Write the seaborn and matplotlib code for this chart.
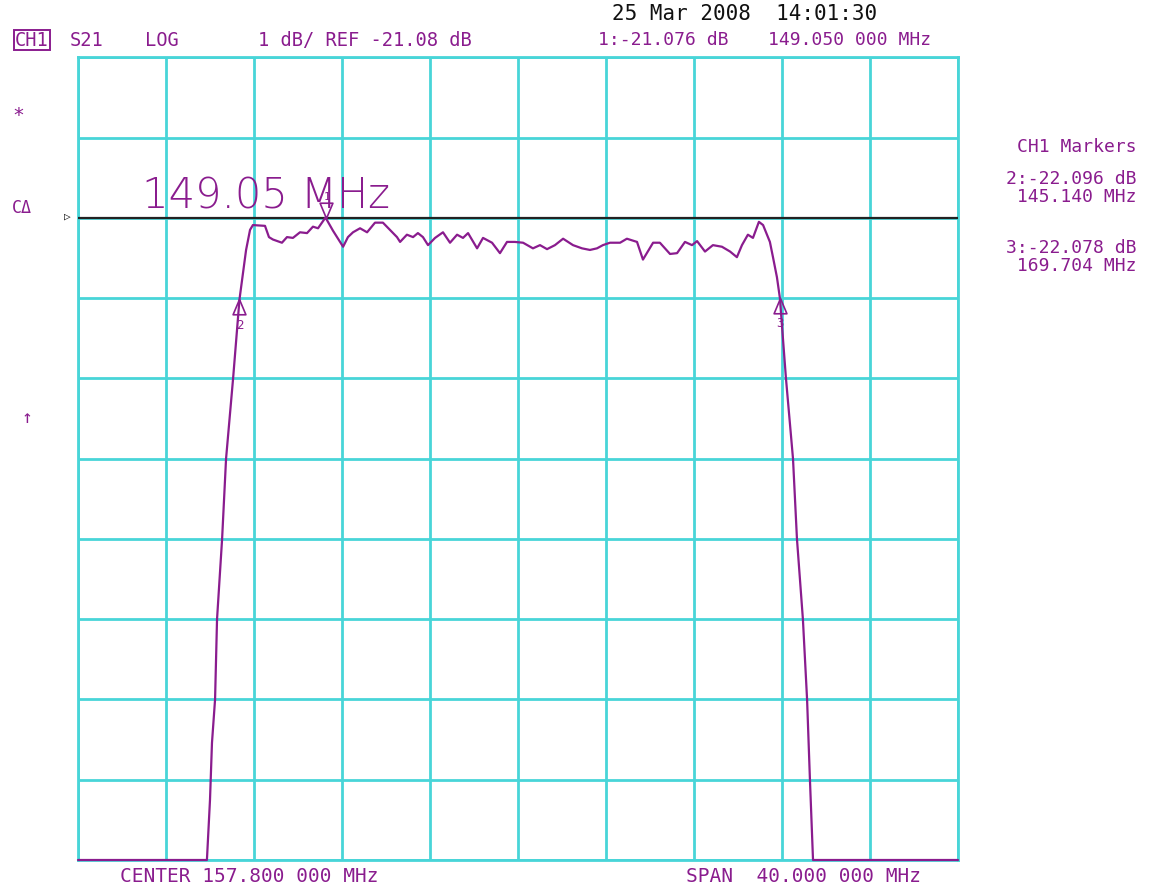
import numpy as np
import pandas as pd
import seaborn as sns
import matplotlib.pyplot as plt

# analyzer settings
center_mhz = 157.8
span_mhz = 40.0
ref_db = -21.08
db_per_div = 1.0
ref_div = 8  # reference line sits 8 divisions above the bottom

# S21 trace (MHz, dB); values below the screen sit at the bottom edge
freq_mhz = [137.80, 143.66, 143.80, 143.89, 144.03, 144.12, 144.35, 144.53, 144.85, 145.14,
            145.44, 145.62, 145.75, 146.30, 146.48, 146.66, 147.07, 147.30, 147.57, 147.89,
            148.21, 148.48, 148.71, 149.05, 149.39, 149.85, 150.07, 150.30, 150.62, 150.94,
            151.30, 151.66, 151.98, 152.30, 152.44, 152.75, 153.03, 153.25, 153.48, 153.71,
            154.03, 154.39, 154.71, 155.03, 155.30, 155.53, 155.94, 156.21, 156.62, 156.98,
            157.30, 157.66, 158.03, 158.48, 158.80, 159.12, 159.48, 159.85, 160.30, 160.71,
            161.07, 161.39, 161.66, 161.98, 162.44, 162.75, 163.21, 163.48, 163.94, 164.25,
            164.71, 165.03, 165.39, 165.71, 165.94, 166.30, 166.66, 167.07, 167.44, 167.75,
            167.98, 168.25, 168.48, 168.75, 168.94, 169.25, 169.39, 169.57, 169.704, 169.98,
            170.30, 170.48, 170.75, 170.94, 171.07, 171.21, 177.80]
s21_db = [-29.08, -29.08, -28.33, -27.62, -27.08, -26.08, -25.08, -24.08, -23.08, -22.096,
          -21.48, -21.23, -21.17, -21.18, -21.32, -21.35, -21.39, -21.32, -21.33, -21.26,
          -21.27, -21.19, -21.21, -21.076, -21.24, -21.44, -21.32, -21.26, -21.21, -21.26,
          -21.14, -21.14, -21.23, -21.32, -21.38, -21.29, -21.32, -21.27, -21.32, -21.42,
          -21.33, -21.26, -21.39, -21.29, -21.33, -21.27, -21.46, -21.33, -21.39, -21.52,
          -21.38, -21.38, -21.39, -21.46, -21.42, -21.47, -21.42, -21.34, -21.42, -21.46,
          -21.48, -21.46, -21.42, -21.39, -21.39, -21.34, -21.38, -21.60, -21.39, -21.39,
          -21.53, -21.52, -21.38, -21.42, -21.37, -21.50, -21.42, -21.44, -21.50, -21.57,
          -21.42, -21.29, -21.33, -21.13, -21.17, -21.38, -21.57, -21.82, -22.078, -23.08,
          -24.08, -25.08, -26.08, -27.08, -28.08, -29.08, -29.08]

# markers
marker_ids = ["1", "2", "3"]
marker_freq = [149.05, 145.14, 169.704]
marker_db = [-21.076, -22.096, -22.078]

trace = pd.DataFrame({"freq": freq_mhz, "s21": s21_db})

cyan = "#48D5D8"
purple = "#8A1C8E"
W, H = 1152, 886


def px(x, y):
    # screen pixel -> figure fraction
    return x / W, 1 - y / H


sns.set_style("white")
plt.rcParams["font.family"] = ["DejaVu Sans Mono", "DejaVu Sans"]

fig = plt.figure(figsize=(W / 100, H / 100), dpi=100)
ax = fig.add_axes([78 / W, 1 - 860 / H, 880 / W, 802.7 / H])

f_lo = center_mhz - span_mhz / 2
f_hi = center_mhz + span_mhz / 2
y_lo = ref_db - ref_div * db_per_div
y_hi = y_lo + 10 * db_per_div

ax.set_xlim(f_lo, f_hi)
ax.set_ylim(y_lo, y_hi)
ax.set_xticks(np.linspace(f_lo, f_hi, 11))
ax.set_yticks(np.linspace(y_lo, y_hi, 11))
ax.tick_params(length=0, labelbottom=False, labelleft=False)
ax.grid(True, color=cyan, linewidth=2)
ax.set_axisbelow(True)
for s in ax.spines.values():
    s.set_color(cyan)
    s.set_linewidth(2)
    s.set_zorder(0.5)

# reference line
ax.axhline(ref_db, color="#222222", linewidth=1.6, zorder=2)

sns.lineplot(data=trace, x="freq", y="s21", color=purple, linewidth=1.6,
             ax=ax, zorder=3, clip_on=False)
ax.set_xlabel("")
ax.set_ylabel("")

# marker symbols: triangles with the tip on the trace
up_tri = [(0, 0), (-0.42, -1), (0.42, -1), (0, 0)]
down_tri = [(0, 0), (-0.42, 1), (0.42, 1), (0, 0)]
for mid, mf, md in zip(marker_ids, marker_freq, marker_db):
    if mid == "1":
        ax.plot(mf, md, marker=down_tri, markersize=22, markerfacecolor="none",
                markeredgecolor=purple, markeredgewidth=1.2, zorder=4)
        ax.annotate(mid, (mf, md), xytext=(1, 11), textcoords="offset points",
                    ha="center", va="bottom", color=purple, fontsize=8)
    else:
        ax.plot(mf, md, marker=up_tri, markersize=22, markerfacecolor="none",
                markeredgecolor=purple, markeredgewidth=1.2, zorder=4)
        ax.annotate(mid, (mf, md), xytext=(0, -14), textcoords="offset points",
                    ha="center", va="top", color=purple, fontsize=9)

# header
fig.text(*px(612, 14), "25 Mar 2008  14:01:30", color="#111111", fontsize=15, va="center")
fig.text(*px(15, 40), "CH1", color=purple, fontsize=13.5, va="center",
         bbox=dict(boxstyle="square,pad=0.05", fc="none", ec=purple, lw=1.4))
fig.text(*px(70, 40), "S21", color=purple, fontsize=13.5, va="center")
fig.text(*px(145, 40), "LOG", color=purple, fontsize=13.5, va="center")
fig.text(*px(258, 40), "1 dB/ REF -21.08 dB", color=purple, fontsize=13.5, va="center")
fig.text(*px(598, 40), "1:-21.076 dB", color=purple, fontsize=13, va="center")
fig.text(*px(768, 40), "149.050 000 MHz", color=purple, fontsize=13, va="center")

# left side annunciators
fig.text(*px(12, 115), "*", color=purple, fontsize=14, va="center")
fig.text(*px(12, 208), "CΔ", color=purple, fontsize=12, va="center")
fig.text(*px(22, 418), "↑", color=purple, fontsize=13, va="center")
fig.text(*px(64, 217), "▷", color="#111111", fontsize=8, va="center")

# marker readout
fig.text(*px(1137, 147), "CH1 Markers", color=purple, fontsize=13, va="center", ha="right")
fig.text(*px(1137, 188), "2:-22.096 dB\n 145.140 MHz", color=purple, fontsize=13,
         va="center", ha="right", linespacing=0.95)
fig.text(*px(1137, 257), "3:-22.078 dB\n 169.704 MHz", color=purple, fontsize=13,
         va="center", ha="right", linespacing=0.95)

# big active marker frequency
fig.text(*px(142, 196), "149.05 MHz", color=purple, fontsize=30, va="center",
         family="DejaVu Sans", fontweight="light")

# footer
fig.text(*px(120, 876), "CENTER 157.800 000 MHz", color=purple, fontsize=14, va="center")
fig.text(*px(686, 876), "SPAN  40.000 000 MHz", color=purple, fontsize=14, va="center")

fig.savefig("out.png", dpi=100, facecolor="white")
